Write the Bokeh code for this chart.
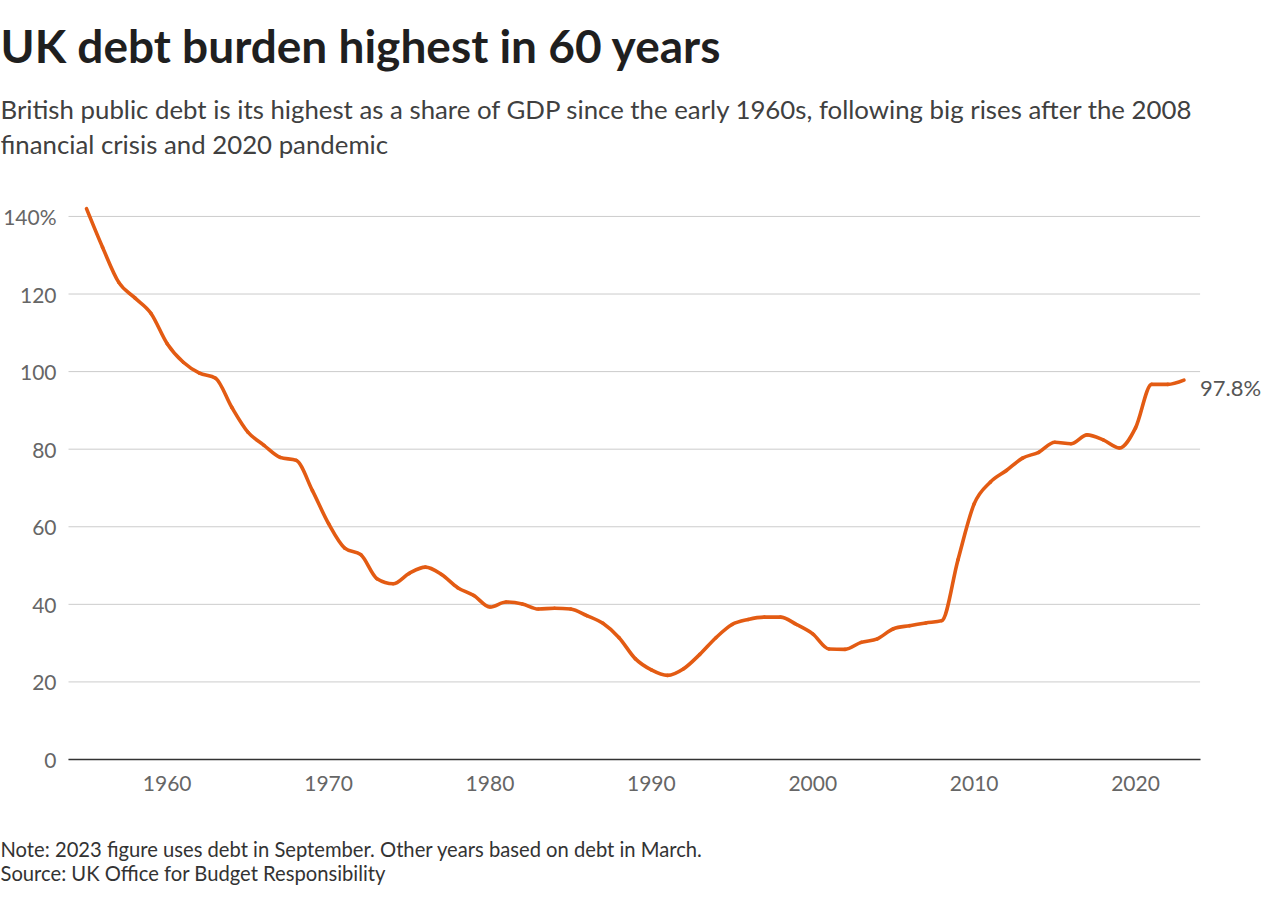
from bokeh.plotting import figure
from bokeh.models import Range1d, Label, FixedTicker, ColumnDataSource
from bokeh.embed import file_html
from bokeh.resources import INLINE

years = list(range(1955, 2024))
debt = [142.0, 132.0, 123.0, 119.0, 115.0,
        107.2, 102.4, 99.6, 98.3, 90.8, 84.4, 81.0, 77.9, 77.1, 69.3,
        60.8, 54.5, 52.8, 46.6, 45.3, 48.0, 49.6, 47.7, 44.3, 42.3,
        39.3, 40.6, 40.1, 38.8, 39.0, 38.8, 37.1, 35.1, 31.4, 26.0,
        23.1, 21.7, 23.4, 27.1, 31.4, 34.8, 36.1, 36.7, 36.7, 34.8,
        32.4, 28.5, 28.4, 30.2, 31.1, 33.7, 34.5, 35.2, 35.8, 51.5,
        65.9, 71.5, 74.5, 77.7, 79.2, 81.8, 81.4, 83.7, 82.4, 80.3,
        85.5, 96.7, 96.7, 97.8]
x_ticks = [1960, 1970, 1980, 1990, 2000, 2010, 2020]
y_ticks = [0, 20, 40, 60, 80, 100, 120, 140]
y_tick_overrides = {140: "140%"}

title_text = "UK debt burden highest in 60 years"
subtitle_lines = [
    "British public debt is its highest as a share of GDP since the early 1960s, following big rises after the 2008",
    "financial crisis and 2020 pandemic",
]
note_text = "Note: 2023 figure uses debt in September. Other years based on debt in March."
source_text = "Source: UK Office for Budget Responsibility"

FONT = "Lato"
LINE_COLOR = "#E35B13"
W, H = 1264, 885
X_START, X_GRID_END = 1953.885, 2024.0
PX_YEAR, PX_UNIT = 16.139, 3.879
x_range = Range1d(X_START - 68 / PX_YEAR, X_START + (W - 68) / PX_YEAR)
y_range = Range1d(-(H - 759) / PX_UNIT, 759 / PX_UNIT)


def monotone_tangents(xs, ys):
    """Fritsch-Carlson style tangents (as in a monotone-x curve)."""
    n = len(xs)
    sl = [(ys[i + 1] - ys[i]) / (xs[i + 1] - xs[i]) for i in range(n - 1)]
    t = [0.0] * n
    for i in range(1, n - 1):
        s0, s1 = sl[i - 1], sl[i]
        h0, h1 = xs[i] - xs[i - 1], xs[i + 1] - xs[i]
        pp = (s0 * h1 + s1 * h0) / (h0 + h1)
        sgn = (1 if s0 > 0 else -1 if s0 < 0 else 0) + (1 if s1 > 0 else -1 if s1 < 0 else 0)
        t[i] = sgn * min(abs(s0), abs(s1), 0.5 * abs(pp)) if sgn else 0.0
    t[0] = (3 * sl[0] - t[1]) / 2
    t[-1] = (3 * sl[-1] - t[-2]) / 2
    return t


tan = monotone_tangents(years, debt)
seg = dict(x0=[], y0=[], x1=[], y1=[], cx0=[], cy0=[], cx1=[], cy1=[])
for i in range(len(years) - 1):
    dx = (years[i + 1] - years[i]) / 3
    seg["x0"].append(years[i]); seg["y0"].append(debt[i])
    seg["x1"].append(years[i + 1]); seg["y1"].append(debt[i + 1])
    seg["cx0"].append(years[i] + dx); seg["cy0"].append(debt[i] + dx * tan[i])
    seg["cx1"].append(years[i + 1] - dx); seg["cy1"].append(debt[i + 1] - dx * tan[i + 1])

p = figure(width=W, height=H, output_backend="svg", toolbar_location=None,
           x_range=x_range, y_range=y_range,
           min_border_left=0, min_border_right=0, min_border_top=0,
           min_border_bottom=0)
p.outline_line_color = None
p.background_fill_color = "white"
p.border_fill_color = "white"

# horizontal grid lines
p.segment(x0=[X_START] * len(y_ticks), x1=[X_GRID_END] * len(y_ticks),
          y0=y_ticks, y1=y_ticks, line_color="#cccccc", line_width=1)

# debt line, drawn as a smooth curve through every data point
p.bezier(x0="x0", y0="y0", x1="x1", y1="y1", cx0="cx0", cy0="cy0",
         cx1="cx1", cy1="cy1", source=ColumnDataSource(seg),
         line_color=LINE_COLOR, line_width=3.6, line_cap="round")

xa = p.xaxis[0]
xa.fixed_location = 0
xa.ticker = FixedTicker(ticks=x_ticks)
xa.bounds = (X_START, X_GRID_END)
xa.major_tick_line_color = None
xa.minor_tick_line_color = None
xa.major_tick_out = 0
xa.major_tick_in = 0
xa.axis_line_color = "#333333"
xa.axis_line_width = 1.5
xa.major_label_text_font = FONT
xa.major_label_text_font_size = "21px"
xa.major_label_text_color = "#666666"
xa.major_label_standoff = 16

ya = p.yaxis[0]
ya.fixed_location = X_START
ya.ticker = FixedTicker(ticks=y_ticks)
ya.axis_line_color = None
ya.major_tick_line_color = None
ya.minor_tick_line_color = None
ya.major_tick_out = 0
ya.major_tick_in = 0
ya.major_label_overrides = y_tick_overrides
ya.major_label_text_font = FONT
ya.major_label_text_font_size = "21px"
ya.major_label_text_color = "#666666"
ya.major_label_standoff = 12

p.xgrid.grid_line_color = None
p.ygrid.grid_line_color = None

# end label
p.add_layout(Label(x=years[-1], y=debt[-1], text=f"{debt[-1]}%",
                   x_offset=16, y_offset=-7, text_baseline="middle",
                   text_font=FONT, text_font_size="22px", text_color="#555555"))


def screen_label(txt, x, y_from_top, size, color, style="normal"):
    p.add_layout(Label(x=x, y=H - y_from_top, x_units="screen", y_units="screen",
                       text=txt, text_baseline="alphabetic", text_align="left",
                       text_font=FONT, text_font_size=size, text_color=color,
                       text_font_style=style))


screen_label(title_text, 0, 45, "46px", "#1f1f1f", "bold")
screen_label(subtitle_lines[0], 0, 108, "25.8px", "#404040")
screen_label(subtitle_lines[1], 0, 143, "25.8px", "#404040")
screen_label(note_text, 0, 848, "20.2px", "#333333")
screen_label(source_text, 0, 872, "20.2px", "#333333")

open("out.html", "w").write(file_html(p, INLINE))
